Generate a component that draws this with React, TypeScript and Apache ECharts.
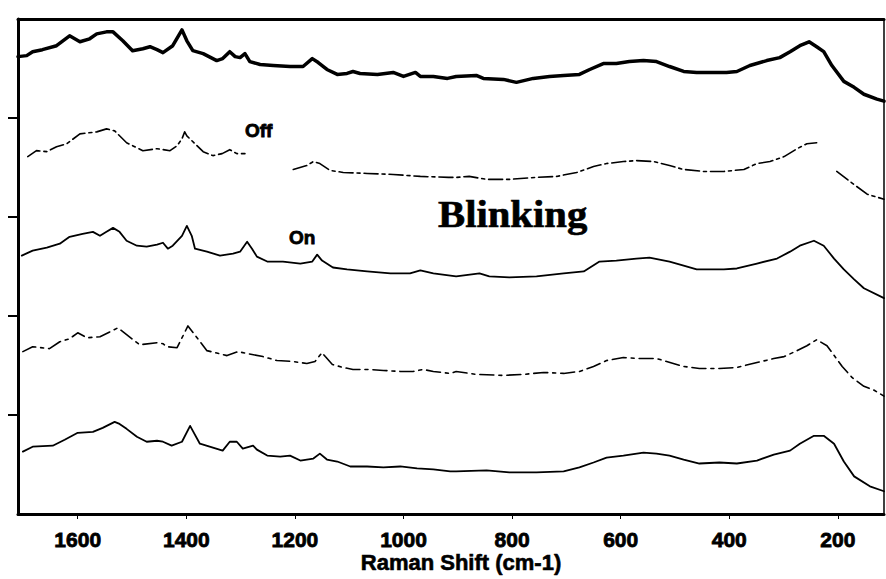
import React, { useEffect, useRef } from "react";
import * as echarts from "echarts";

const WIDTH = 886;
const HEIGHT = 579;

// Tick positions
const xTicks = [1600, 1400, 1200, 1000, 800, 600, 400, 200];
const yTicks = [1, 2, 3, 4];

// Spectra stacked with vertical offsets: [Raman shift (cm-1), intensity]
const sumSpectrum = [
  [1710, 4.62], [1694, 4.63], [1683, 4.67], [1665, 4.69], [1639, 4.73], [1615, 4.83],
  [1596, 4.77], [1578, 4.8], [1565, 4.85], [1547, 4.87], [1535, 4.87], [1517, 4.78],
  [1499, 4.68], [1480, 4.7], [1467, 4.72], [1454, 4.69], [1443, 4.66], [1425, 4.73],
  [1408, 4.89], [1399, 4.78], [1388, 4.68], [1369, 4.65], [1344, 4.58], [1333, 4.6],
  [1320, 4.67], [1310, 4.62], [1301, 4.61], [1292, 4.65], [1283, 4.57], [1264, 4.54],
  [1240, 4.53], [1209, 4.52], [1185, 4.52], [1168, 4.6], [1157, 4.56], [1141, 4.49],
  [1122, 4.44], [1104, 4.45], [1093, 4.47], [1080, 4.45], [1048, 4.44], [1019, 4.46],
  [1000, 4.42], [978, 4.46], [969, 4.42], [945, 4.42], [919, 4.4], [903, 4.42],
  [866, 4.43], [853, 4.4], [816, 4.39], [792, 4.36], [761, 4.4], [731, 4.42],
  [705, 4.43], [676, 4.44], [657, 4.49], [632, 4.55], [608, 4.55], [584, 4.57],
  [558, 4.58], [534, 4.57], [510, 4.52], [484, 4.47], [460, 4.46], [429, 4.46],
  [405, 4.46], [386, 4.47], [362, 4.53], [331, 4.58], [307, 4.61], [288, 4.67],
  [270, 4.73], [253, 4.77], [239, 4.72], [226, 4.67], [211, 4.53], [189, 4.37],
  [170, 4.31], [152, 4.24], [128, 4.19], [115, 4.17],
];

const offSpectrum: (number | string)[][] = [
  [1692, 3.61], [1676, 3.67], [1657, 3.66], [1639, 3.71], [1620, 3.74], [1596, 3.84],
  [1565, 3.86], [1547, 3.89], [1532, 3.87], [1510, 3.75], [1480, 3.67], [1454, 3.69],
  [1430, 3.67], [1417, 3.72], [1408, 3.79], [1403, 3.86], [1399, 3.82], [1369, 3.66],
  [1351, 3.62], [1334, 3.64], [1320, 3.68], [1307, 3.64], [1292, 3.64], [1250, "-"],
  [1203, 3.48], [1178, 3.52], [1166, 3.56], [1154, 3.54], [1135, 3.47], [1111, 3.45],
  [1067, 3.44], [1019, 3.43], [969, 3.41], [917, 3.4], [903, 3.4], [879, 3.41],
  [847, 3.38], [805, 3.38], [755, 3.4], [718, 3.41], [681, 3.45], [650, 3.51],
  [626, 3.54], [595, 3.56], [571, 3.57], [539, 3.56], [510, 3.52], [484, 3.48],
  [447, 3.46], [410, 3.46], [373, 3.48], [349, 3.54], [325, 3.56], [299, 3.61],
  [275, 3.69], [257, 3.74], [239, 3.75], [222, "-"], [202, 3.46], [178, 3.36],
  [146, 3.23], [115, 3.18],
];

const onSpectrum = [
  [1703, 2.61], [1683, 2.66], [1657, 2.69], [1633, 2.73], [1615, 2.8], [1591, 2.83],
  [1572, 2.85], [1559, 2.81], [1547, 2.85], [1535, 2.89], [1523, 2.85], [1510, 2.76],
  [1491, 2.71], [1473, 2.7], [1454, 2.72], [1443, 2.74], [1434, 2.68], [1425, 2.71],
  [1408, 2.81], [1399, 2.91], [1390, 2.81], [1384, 2.68], [1362, 2.65], [1338, 2.61],
  [1314, 2.63], [1301, 2.65], [1288, 2.75], [1279, 2.68], [1270, 2.6], [1251, 2.55],
  [1222, 2.55], [1190, 2.53], [1168, 2.55], [1159, 2.62], [1150, 2.56], [1130, 2.49],
  [1104, 2.47], [1067, 2.45], [1024, 2.43], [988, 2.43], [969, 2.46], [945, 2.43],
  [917, 2.41], [903, 2.4], [860, 2.43], [842, 2.4], [805, 2.39], [755, 2.4],
  [705, 2.43], [668, 2.45], [639, 2.55], [608, 2.56], [571, 2.58], [547, 2.59],
  [510, 2.55], [484, 2.51], [460, 2.47], [410, 2.47], [386, 2.48], [349, 2.53],
  [312, 2.58], [288, 2.65], [270, 2.71], [244, 2.76], [226, 2.71], [207, 2.58],
  [189, 2.47], [170, 2.37], [152, 2.28], [115, 2.18],
];

const offSpectrum2 = [
  [1701, 1.64], [1683, 1.69], [1652, 1.67], [1633, 1.74], [1615, 1.77], [1600, 1.83],
  [1583, 1.78], [1559, 1.79], [1526, 1.88], [1486, 1.71], [1454, 1.73], [1443, 1.72],
  [1436, 1.69], [1417, 1.68], [1397, 1.9], [1362, 1.65], [1325, 1.6], [1305, 1.64],
  [1259, 1.59], [1233, 1.55], [1203, 1.54], [1178, 1.52], [1163, 1.54], [1150, 1.63],
  [1144, 1.59], [1131, 1.51], [1111, 1.48], [1093, 1.46], [1067, 1.46], [1037, 1.45],
  [1006, 1.44], [982, 1.44], [964, 1.46], [945, 1.44], [914, 1.42], [903, 1.44],
  [866, 1.41], [816, 1.4], [779, 1.41], [742, 1.43], [705, 1.42], [676, 1.44],
  [650, 1.49], [626, 1.55], [595, 1.58], [565, 1.57], [534, 1.57], [521, 1.55],
  [484, 1.49], [455, 1.47], [418, 1.47], [386, 1.48], [349, 1.53], [318, 1.57],
  [299, 1.59], [275, 1.65], [257, 1.7], [239, 1.76], [220, 1.7], [192, 1.49],
  [174, 1.38], [152, 1.29], [133, 1.25], [115, 1.19],
];

const onSpectrum2 = [
  [1701, 0.63], [1683, 0.68], [1646, 0.69], [1624, 0.75], [1600, 0.82], [1572, 0.83],
  [1554, 0.87], [1532, 0.93], [1523, 0.91], [1510, 0.86], [1491, 0.78], [1473, 0.73],
  [1454, 0.74], [1443, 0.73], [1427, 0.69], [1408, 0.73], [1393, 0.89], [1388, 0.84],
  [1375, 0.71], [1351, 0.67], [1333, 0.64], [1320, 0.73], [1307, 0.73], [1296, 0.66],
  [1277, 0.69], [1270, 0.65], [1251, 0.59], [1227, 0.58], [1209, 0.59], [1190, 0.54],
  [1166, 0.56], [1154, 0.61], [1141, 0.55], [1122, 0.53], [1098, 0.48], [1067, 0.48],
  [1037, 0.47], [1006, 0.48], [975, 0.46], [945, 0.45], [914, 0.43], [903, 0.43],
  [847, 0.44], [805, 0.42], [755, 0.42], [705, 0.43], [676, 0.47], [650, 0.52],
  [626, 0.57], [595, 0.59], [558, 0.62], [534, 0.61], [510, 0.59], [484, 0.55],
  [455, 0.51], [418, 0.52], [386, 0.51], [349, 0.54], [318, 0.6], [288, 0.64],
  [270, 0.71], [244, 0.79], [226, 0.79], [207, 0.71], [189, 0.53], [170, 0.38],
  [141, 0.28], [115, 0.23],
];

const INK = "#000";
const sansBold = '"Liberation Sans", Arial, Helvetica, sans-serif';

function line(data: any[], width: number, type: any) {
  return {
    type: "line",
    data,
    showSymbol: false,
    symbol: "none",
    silent: true,
    connectNulls: false,
    lineStyle: { color: INK, width, type, cap: "round", join: "round" },
  };
}

export default function App() {
  const ref = useRef<HTMLDivElement>(null);

  useEffect(() => {
    if (!ref.current) return;
    const chart = echarts.init(ref.current, undefined, { renderer: "svg" });

    chart.setOption({
      animation: false,
      backgroundColor: "#fff",
      grid: { left: 18, right: 2, top: 19, bottom: 65 },
      xAxis: [
        {
          type: "value",
          inverse: true,
          min: 115,
          max: 1710,
          splitLine: { show: false },
          axisLine: { show: true, lineStyle: { color: INK, width: 3 } },
          axisTick: {
            show: true,
            inside: false,
            length: 5,
            customValues: xTicks,
            lineStyle: { color: INK, width: 1 },
          },
          axisLabel: {
            customValues: xTicks,
            formatter: (v: number) => String(v),
            color: INK,
            fontFamily: sansBold,
            fontWeight: "bold",
            fontSize: 21,
            lineHeight: 21,
            margin: 15,
            textBorderColor: INK,
            textBorderWidth: 0.8,
          },
        },
        {
          type: "value",
          position: "top",
          inverse: true,
          min: 115,
          max: 1710,
          splitLine: { show: false },
          axisLine: { show: true, onZero: false, lineStyle: { color: INK, width: 3 } },
          axisTick: { show: false },
          axisLabel: { show: false },
        },
      ],
      yAxis: [
        {
          type: "value",
          min: 0,
          max: 5,
          interval: 1,
          splitLine: { show: false },
          axisLine: { show: true, lineStyle: { color: INK, width: 3 } },
          axisTick: {
            show: true,
            inside: false,
            length: 10,
            customValues: yTicks,
            lineStyle: { color: INK, width: 2 },
          },
          axisLabel: { show: false },
        },
        {
          type: "value",
          position: "right",
          min: 0,
          max: 5,
          splitLine: { show: false },
          axisLine: { show: true, onZero: false, lineStyle: { color: INK, width: 1.5 } },
          axisTick: { show: false },
          axisLabel: { show: false },
        },
      ],
      series: [
        line(sumSpectrum, 3.5, "solid"),
        line(offSpectrum, 1.6, [14, 4, 3, 4]),
        line(onSpectrum, 1.8, "solid"),
        line(offSpectrum2, 1.6, [14, 5, 3, 5]),
        line(onSpectrum2, 1.8, "solid"),
      ],
      graphic: [
        {
          type: "text",
          x: 245,
          y: 121,
          silent: true,
          style: {
            text: "Off",
            fill: INK,
            stroke: INK,
            lineWidth: 0.8,
            font: `bold 19px ${sansBold}`,
            align: "left",
            verticalAlign: "top",
          },
        },
        {
          type: "text",
          x: 289,
          y: 228,
          silent: true,
          style: {
            text: "On",
            fill: INK,
            stroke: INK,
            lineWidth: 0.8,
            font: `bold 19px ${sansBold}`,
            align: "left",
            verticalAlign: "top",
          },
        },
        {
          type: "text",
          x: 438,
          y: 196,
          scaleX: 1.1,
          silent: true,
          style: {
            text: "Blinking",
            fill: INK,
            stroke: INK,
            lineWidth: 0.6,
            font: 'bold 37px "Liberation Serif", "Times New Roman", serif',
            align: "left",
            verticalAlign: "top",
          },
        },
        {
          type: "text",
          x: 461,
          y: 551,
          silent: true,
          style: {
            text: "Raman Shift (cm-1)",
            fill: INK,
            stroke: INK,
            lineWidth: 0.6,
            font: `bold 22px ${sansBold}`,
            align: "center",
            verticalAlign: "top",
          },
        },
      ],
    });

    return () => chart.dispose();
  }, []);

  return (
    <div
      ref={ref}
      style={{
        position: "fixed",
        left: 0,
        top: 0,
        width: WIDTH,
        height: HEIGHT,
        background: "#fff",
      }}
    />
  );
}
